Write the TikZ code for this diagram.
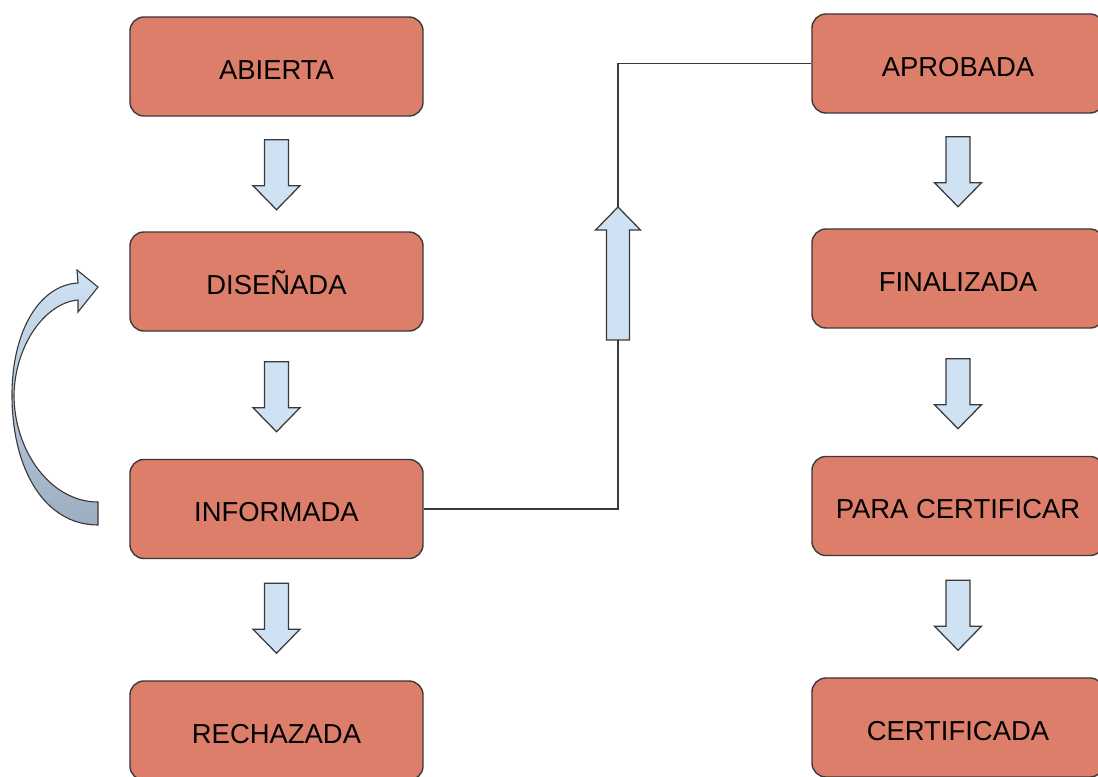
\documentclass[tikz,border=0pt]{standalone}
\usepackage{fontspec}
\setmainfont{Liberation Sans}
\usetikzlibrary{calc,positioning}
\definecolor{EstadoFill}{HTML}{DD7E6B}
\definecolor{EstadoInk}{HTML}{3A3A3A}
\definecolor{FlechaFill}{HTML}{CFE2F3}
\definecolor{FlechaDark}{HTML}{9DAEC2}

\begin{document}
\begin{tikzpicture}[x=0.025cm,y=-0.025cm,
      font=\fontsize{19.5}{23}\selectfont,
      box/.style={draw=EstadoInk,line width=1pt,fill=EstadoFill,rounded corners=0.35cm,minimum width=7.325cm,minimum height=2.475cm,inner sep=0pt,text height=18.3pt,text depth=0pt,align=center},
      rbox/.style={box,minimum width=7.3cm},
      blk/.style={draw=EstadoInk,line width=0.9pt,fill=FlechaFill,line join=miter},
      lin/.style={draw=EstadoInk,line width=0.8pt},
      curv/.style={draw=EstadoInk,line width=0.8pt,top color=FlechaFill,bottom color=FlechaDark},
      downarr/.pic={\path[blk] (-12,0) -- (12,0) -- (12,46) -- (23.5,46) -- (0,70) -- (-23.5,46) -- (-12,46) -- cycle;},
      uparr/.pic={\path[blk] (-11.5,0) -- (11.5,0) -- (11.5,-110) -- (22.5,-110) -- (0,-133) -- (-22.5,-110) -- (-11.5,-110) -- cycle;
        \coordinate (-base) at (0,0);
        \coordinate (-tip) at (0,-133);}
    ]
      \clip (0,0) rectangle (1098,776);
      % estados, columna izquierda
      \node[box] (abierta) at (276.5,66.5) {ABIERTA};
      \node[box] (disenada) at (276.5,281.5) {DISEÑADA};
      \node[box] (informada) at (276.5,509) {INFORMADA};
      \node[box] (rechazada) at (276.5,730.5) {RECHAZADA};
      % estados, columna derecha
      \node[rbox] (aprobada) at (958,63.5) {APROBADA};
      \node[rbox] (finalizada) at (958,278.5) {FINALIZADA};
      \node[rbox] (paracert) at (958,506) {PARA CERTIFICAR};
      \node[rbox] (certificada) at (958,727.5) {CERTIFICADA};
      % flechas de bloque
      \pic at ($(abierta.south)+(0,23)$) {downarr};
      \pic at ($(disenada.south)+(0,30)$) {downarr};
      \pic at ($(informada.south)+(0,24)$) {downarr};
      \pic at ($(aprobada.south)+(0,23)$) {downarr};
      \pic at ($(finalizada.south)+(0,30)$) {downarr};
      \pic at ($(paracert.south)+(0,24)$) {downarr};
      % paso a la columna derecha
      \pic (sube) at (618,340) {uparr};
      \draw[lin] (informada.east) -| (sube-base);
      \draw[lin] (sube-tip) |- (aprobada.west);
      % vuelta de informada a disenada
      \path[curv] (98,502) -- (98,525) .. controls (45,525) and (12,470) .. (12,395)
        .. controls (12,330) and (40,285) .. (78,283) -- (77,270) -- (98,287) -- (78,312) -- (78,300)
        .. controls (45,303) and (15,345) .. (14,395) .. controls (14,450) and (50,502) .. (98,502) -- cycle;
    \end{tikzpicture}
\end{document}
